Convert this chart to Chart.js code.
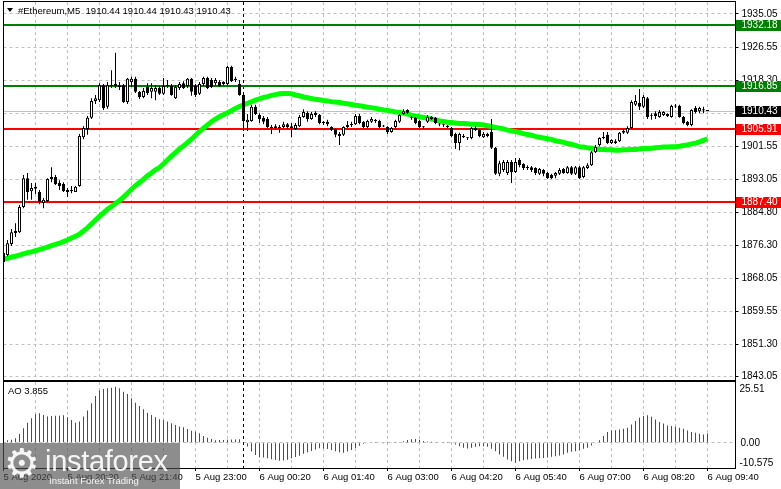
<!DOCTYPE html>
<html>
<head>
<meta charset="utf-8">
<title>#Ethereum,M5</title>
<script src="https://cdn.jsdelivr.net/npm/chart.js@4.4.1/dist/chart.umd.min.js"></script>
<style>
  html, body { margin: 0; padding: 0; background: #fff; }
  #stage { position: relative; width: 781px; height: 489px; overflow: hidden; font-family: 'Liberation Sans', Arial, sans-serif; }
  #mainChart { position: absolute; left: 0; top: 0; }
  #aoChart { position: absolute; left: 0; top: 381px; }
  .caption { position: absolute; font-size: 9.5px; line-height: 11px; color: #000; white-space: pre; }
  #tri { position: absolute; left: 7px; top: 8px; width: 0; height: 0;
         border-left: 3.5px solid transparent; border-right: 3.5px solid transparent; border-top: 4px solid #000; }
  #title { left: 18px; top: 5px; }
  #aoTitle { left: 8px; top: 385px; }
  #logo { position: absolute; left: 0; top: 443px; width: 180px; height: 46px; background: rgba(80, 80, 80, 0.65); overflow: hidden; color: rgba(255, 255, 255, 0.92); }
  #logo .gear { position: absolute; left: 4px; top: -3px; font: 40px/46px 'DejaVu Sans', sans-serif; }
  #logo .brand { position: absolute; left: 45px; top: 4px; font: 29px/29px 'Liberation Sans', Arial, sans-serif; letter-spacing: -0.3px; }
  #logo .tag { position: absolute; left: 49px; top: 32px; font: 9.5px/11px 'Liberation Sans', Arial, sans-serif; }
</style>
</head>
<body>
<div id="stage">
  <canvas id="mainChart" width="781" height="381"></canvas>
  <canvas id="aoChart" width="781" height="108"></canvas>
  <div id="tri"></div>
  <div id="title" class="caption">#Ethereum,M5  1910.44 1910.44 1910.43 1910.43</div>
  <div id="aoTitle" class="caption">AO 3.855</div>
  <div id="logo"><div class="gear">⚙</div><div class="brand">instaforex</div><div class="tag">Instant Forex Trading</div></div>
</div>
<script>
// ETH M5 candles, 5 Aug 19:00 .. 6 Aug 09:40
const opens = [
  1872.1,1873.9,1876.7,1880.0,1879.7,1886.1,1893.4,1890.1,1891.2,1889.9,
  1887.1,1887.6,1893.2,1893.7,1892.2,1891.9,1890.4,1890.1,1889.9,1891.4,
  1903.8,1905.9,1908.7,1913.0,1913.2,1917.0,1911.5,1917.0,1916.8,1917.0,
  1917.0,1912.7,1917.8,1918.6,1915.3,1914.0,1916.5,1915.3,1915.3,1916.3,
  1914.8,1916.8,1916.8,1913.7,1916.3,1917.5,1916.8,1918.6,1916.8,1914.8,
  1917.3,1918.8,1918.3,1917.5,1917.8,1917.3,1917.3,1921.6,1918.3,1917.3,
  1914.5,1907.6,1907.9,1911.5,1909.4,1908.7,1908.4,1906.1,1906.1,1906.4,
  1906.4,1907.1,1906.6,1905.9,1906.6,1908.9,1910.0,1908.4,1910.0,1909.4,
  1907.4,1907.7,1906.4,1905.9,1904.6,1904.4,1906.4,1906.9,1907.1,1909.2,
  1907.7,1906.4,1907.7,1908.2,1907.9,1906.6,1906.4,1905.1,1906.4,1907.7,
  1909.7,1910.7,1908.9,1908.7,1907.9,1906.4,1907.7,1908.4,1908.7,1907.1,
  1906.9,1906.4,1906.1,1904.6,1902.3,1903.8,1903.6,1903.6,1906.1,1905.6,
  1903.8,1904.1,1905.1,1901.1,1894.5,1895.5,1894.7,1897.5,1895.0,1898.0,
  1897.0,1896.2,1896.2,1896.0,1894.5,1895.5,1894.7,1894.2,1894.0,1894.5,
  1895.7,1894.7,1896.2,1894.5,1896.2,1893.7,1896.0,1896.7,1900.0,1901.8,
  1903.6,1904.4,1902.3,1902.3,1902.8,1904.9,1904.9,1906.1,1912.0,1912.5,
  1911.5,1913.7,1909.2,1909.9,1908.9,1909.4,1909.7,1908.9,1911.7,1911.7,
  1908.9,1907.7,1906.9,1911.2,1910.4,1910.9,1910.44
];
const highs = [
  1875.2,1877.7,1880.5,1882.0,1886.6,1894.2,1894.7,1892.2,1892.2,1890.4,
  1888.4,1893.4,1896.2,1894.2,1892.9,1892.4,1890.9,1891.4,1891.4,1904.6,
  1906.6,1909.2,1913.7,1914.5,1917.5,1917.3,1917.8,1920.8,1925.2,1917.8,
  1917.3,1918.8,1919.1,1919.1,1915.5,1916.3,1917.5,1917.5,1917.0,1916.8,
  1918.8,1918.3,1917.3,1917.0,1917.8,1918.0,1918.8,1918.8,1917.3,1917.8,
  1919.1,1919.1,1918.8,1918.8,1918.3,1918.0,1921.9,1921.9,1919.1,1918.3,
  1915.0,1909.7,1912.0,1912.0,1909.9,1909.2,1908.9,1906.9,1907.1,1906.9,
  1907.7,1907.4,1907.4,1907.4,1909.4,1910.9,1910.4,1910.2,1910.4,1909.7,
  1907.9,1908.2,1906.6,1906.1,1905.1,1906.6,1907.9,1907.7,1909.7,1909.7,
  1907.9,1908.2,1908.9,1908.4,1908.2,1906.9,1906.6,1906.4,1908.2,1909.7,
  1910.9,1910.9,1909.2,1908.9,1908.2,1906.6,1909.4,1909.2,1908.9,1907.4,
  1907.1,1906.9,1906.4,1904.9,1904.9,1904.6,1903.8,1906.4,1906.6,1905.9,
  1905.1,1904.9,1908.4,1901.3,1897.8,1898.0,1898.0,1898.0,1898.5,1898.5,
  1897.2,1896.7,1896.5,1896.2,1896.0,1895.7,1895.0,1894.5,1895.0,1896.0,
  1896.0,1896.5,1896.5,1896.5,1896.5,1896.5,1897.2,1900.3,1901.8,1903.8,
  1905.1,1905.1,1903.3,1903.3,1905.1,1905.9,1906.6,1913.2,1914.5,1916.0,
  1914.5,1914.0,1909.9,1910.4,1910.7,1910.4,1909.9,1912.0,1912.2,1912.0,
  1909.2,1907.9,1910.9,1911.7,1911.5,1911.5,1910.44
];
const lows = [
  1871.1,1873.6,1876.2,1878.5,1879.5,1885.8,1887.9,1887.9,1889.4,1886.8,
  1885.8,1887.4,1892.4,1891.7,1890.4,1889.9,1888.6,1889.6,1889.9,1891.2,
  1903.3,1904.4,1908.4,1912.2,1912.7,1910.7,1911.0,1916.3,1916.3,1915.8,
  1912.5,1912.2,1916.5,1915.0,1913.5,1913.7,1914.5,1913.7,1913.2,1914.5,
  1914.5,1916.3,1914.3,1913.5,1915.8,1916.0,1916.3,1914.3,1914.0,1914.5,
  1916.8,1916.0,1916.3,1917.0,1916.5,1917.0,1917.0,1917.8,1917.8,1914.3,
  1905.6,1905.4,1907.7,1909.4,1907.4,1907.1,1906.1,1904.6,1905.6,1904.9,
  1906.1,1905.9,1903.8,1905.6,1906.4,1908.7,1907.7,1908.2,1908.9,1907.1,
  1906.9,1906.6,1905.4,1903.8,1901.8,1904.1,1906.1,1906.4,1906.9,1907.1,
  1906.1,1906.1,1907.4,1907.4,1906.1,1906.4,1904.6,1904.9,1906.1,1907.4,
  1909.4,1909.7,1908.2,1907.1,1906.1,1905.9,1907.4,1908.2,1907.1,1906.6,
  1906.4,1906.1,1903.8,1900.8,1900.5,1903.6,1903.1,1903.3,1905.4,1903.8,
  1903.6,1903.8,1900.8,1894.2,1893.9,1895.0,1894.2,1892.2,1894.7,1896.2,
  1895.5,1895.5,1895.0,1894.2,1894.2,1893.9,1893.2,1893.2,1893.4,1894.2,
  1894.5,1894.5,1894.2,1894.2,1893.2,1893.4,1895.7,1896.5,1899.8,1901.5,
  1903.3,1902.1,1902.1,1902.1,1902.6,1904.6,1904.6,1905.9,1911.7,1910.7,
  1911.2,1908.4,1908.2,1908.4,1908.7,1909.2,1908.9,1908.7,1911.2,1908.7,
  1907.1,1906.6,1906.6,1909.9,1909.9,1909.9,1910.43
];
const closes = [
  1874.4,1876.9,1879.7,1879.5,1886.1,1893.4,1889.9,1890.9,1890.7,1887.4,
  1887.9,1893.2,1893.7,1891.9,1891.4,1890.1,1889.9,1890.4,1891.2,1904.1,
  1906.1,1908.7,1913.0,1913.7,1917.0,1911.2,1917.0,1916.8,1917.3,1916.5,
  1912.7,1918.6,1918.6,1915.3,1914.0,1915.5,1915.0,1916.3,1916.3,1914.8,
  1916.8,1917.0,1914.5,1916.5,1917.3,1916.3,1918.6,1915.3,1914.5,1917.3,
  1918.8,1916.3,1916.5,1918.3,1916.8,1917.8,1921.6,1918.0,1918.6,1914.5,
  1907.9,1908.2,1911.5,1909.7,1908.4,1907.7,1906.4,1906.4,1906.6,1906.1,
  1907.1,1906.4,1906.1,1906.9,1908.9,1910.2,1908.4,1909.7,1909.4,1907.4,
  1907.7,1907.1,1905.6,1904.4,1904.1,1906.4,1906.9,1907.1,1909.2,1907.4,
  1906.4,1907.9,1908.4,1907.9,1906.4,1906.5,1905.1,1906.1,1907.9,1909.4,
  1910.4,1910.0,1908.7,1907.4,1906.4,1906.3,1908.9,1908.9,1907.4,1907.0,
  1906.8,1906.6,1904.1,1902.3,1904.6,1904.1,1903.5,1906.1,1905.6,1904.1,
  1904.6,1904.6,1901.1,1894.5,1897.2,1897.5,1897.5,1895.0,1897.5,1896.7,
  1896.0,1896.0,1895.5,1894.7,1895.7,1894.5,1893.4,1893.4,1894.7,1895.5,
  1894.7,1896.2,1894.5,1896.2,1893.4,1896.2,1896.7,1900.0,1901.3,1903.6,
  1903.8,1902.3,1903.1,1902.8,1904.9,1905.4,1906.1,1912.7,1913.0,1911.5,
  1914.0,1908.9,1909.1,1909.2,1910.2,1910.2,1909.2,1911.7,1911.6,1908.9,
  1907.4,1906.9,1910.7,1910.2,1911.2,1910.6,1910.43
];
// green moving average
const maValues = [
  1872.9,1873.1,1873.4,1873.6,1873.9,1874.2,1874.5,1874.7,1875.0,1875.3,
  1875.6,1875.9,1876.3,1876.6,1876.9,1877.3,1877.7,1878.2,1878.7,1879.2,
  1880.0,1880.8,1881.8,1882.8,1883.7,1884.6,1885.5,1886.2,1887.0,1887.7,
  1888.6,1889.6,1890.6,1891.5,1892.3,1893.1,1894.0,1894.7,1895.5,1896.1,
  1897.0,1898.0,1899.0,1899.9,1900.8,1901.6,1902.4,1903.3,1904.3,1905.2,
  1906.1,1906.9,1907.7,1908.4,1909.0,1909.5,1910.0,1910.5,1911.1,1911.6,
  1912.0,1912.4,1912.8,1913.2,1913.5,1913.9,1914.1,1914.4,1914.6,1914.8,
  1914.9,1914.9,1914.8,1914.5,1914.3,1914.0,1913.8,1913.6,1913.4,1913.3,
  1913.1,1913.0,1912.8,1912.7,1912.6,1912.4,1912.3,1912.1,1911.9,1911.8,
  1911.6,1911.4,1911.3,1911.1,1910.9,1910.7,1910.6,1910.4,1910.2,1910.1,
  1909.9,1909.7,1909.4,1909.2,1909.0,1908.8,1908.6,1908.4,1908.2,1907.9,
  1907.8,1907.6,1907.5,1907.4,1907.3,1907.3,1907.2,1907.1,1907.1,1907.0,
  1906.9,1906.7,1906.5,1906.3,1906.1,1905.9,1905.6,1905.4,1905.2,1905.0,
  1904.7,1904.5,1904.3,1904.0,1903.8,1903.6,1903.4,1903.2,1902.9,1902.7,
  1902.5,1902.2,1902.0,1901.7,1901.4,1901.3,1901.1,1901.0,1900.8,1900.7,
  1900.7,1900.6,1900.6,1900.5,1900.5,1900.6,1900.6,1900.7,1900.7,1900.8,
  1900.9,1900.9,1901.0,1901.1,1901.2,1901.3,1901.3,1901.4,1901.4,1901.5,
  1901.7,1901.8,1902.1,1902.3,1902.6,1903.0,1903.4
];
// Awesome Oscillator
const aoValues = [
  1.0,1.1,1.3,1.9,3.7,6.1,8.4,10.3,12.0,12.4,
  11.7,11.0,11.2,11.3,11.4,11.6,10.7,9.6,8.4,8.9,
  11.0,13.5,16.6,19.6,21.9,22.6,22.9,23.1,23.5,22.9,
  21.4,20.5,18.7,16.8,15.4,14.1,12.6,11.7,10.7,9.9,
  9.6,8.9,8.2,7.5,6.8,6.5,5.8,5.1,4.7,4.0,
  2.9,2.1,1.6,1.1,1.15,1.2,1.3,1.35,1.4,1.45,
  0.3,-1.6,-3.7,-5.1,-6.1,-6.2,-6.5,-6.9,-7.2,-7.5,
  -7.4,-7.1,-6.5,-6.0,-5.4,-4.6,-4.0,-3.4,-2.8,-2.3,
  -2.4,-2.6,-3.0,-3.5,-4.0,-4.2,-3.7,-3.0,-2.2,-1.2,
  -0.5,-0.2,0.0,0.05,0.0,-0.05,0.05,0.1,0.15,0.3,
  0.7,1.2,1.5,1.6,1.3,0.8,0.5,0.4,0.3,0.2,
  0.1,0.05,-0.3,-0.7,-1.4,-2.1,-2.4,-2.1,-1.7,-1.4,
  -1.5,-1.7,-2.5,-3.5,-4.9,-5.9,-7.0,-7.7,-8.4,-7.7,
  -7.3,-7.0,-6.8,-6.6,-6.5,-6.4,-6.2,-5.9,-5.6,-5.3,
  -4.9,-4.2,-3.8,-3.5,-3.1,-2.5,-2.1,-1.1,-0.3,1.1,
  2.8,4.5,5.2,5.3,5.6,5.9,6.3,7.7,9.1,10.5,
  11.2,11.6,10.9,9.8,8.7,8.1,7.3,7.0,6.7,6.3,
  5.9,5.2,4.5,4.2,3.8,3.5,3.855
];

const resistanceLevels = [1932.18, 1916.85];
const supportLevels = [1905.91, 1887.40];
const lastPrice = 1910.43;
const priceTicks = [1935.05, 1926.55, 1918.30, 1909.80, 1901.55, 1893.05, 1884.80, 1876.30, 1868.05, 1859.55, 1851.30, 1843.05];
const priceRange = [1842.21, 1938.09];
const aoRange = [-10.575, 25.51];
const timeLabels = ['5 Aug 2020', '5 Aug 20:20', '5 Aug 21:40', '5 Aug 23:00', '6 Aug 00:20', '6 Aug 01:40',
                    '6 Aug 03:00', '6 Aug 04:20', '6 Aug 05:40', '6 Aug 07:00', '6 Aug 08:20', '6 Aug 09:40'];

// bar slots: the candles plus empty room on the right (chart shift)
const barTimes = [];
for (let i = 0; i < opens.length + 7; i++) {
  const mins = 19 * 60 + i * 5;
  const day = mins >= 1440 ? 6 : 5;
  const m = mins % 1440;
  barTimes.push(day + ' Aug ' + String(Math.floor(m / 60)).padStart(2, '0') + ':' + String(m % 60).padStart(2, '0'));
}
const dayStart = barTimes.indexOf('6 Aug 00:00');

const FONT = "'Liberation Sans', Arial, sans-serif";
Chart.defaults.font.family = FONT;
Chart.defaults.color = '#000';

const wickData = lows.map((l, i) => [l, highs[i]]);
const bodyData = opens.map((o, i) => [Math.min(o, closes[i]), Math.max(o, closes[i])]);
const bodyColors = opens.map((o, i) => closes[i] > o ? '#ffffff' : '#000000');
const aoColors = aoValues.map((v, i) => i > 0 && v > aoValues[i - 1] ? '#008000' : '#ff0000');

function drawSeparator(chart) {
  const { ctx, chartArea: a, scales: { x } } = chart;
  const sx = Math.floor(x.getPixelForValue(dayStart)) + 0.5;
  ctx.save();
  ctx.strokeStyle = '#000';
  ctx.lineWidth = 1;
  ctx.setLineDash([3, 3]);
  ctx.beginPath();
  ctx.moveTo(sx, a.top);
  ctx.lineTo(sx, a.bottom);
  ctx.stroke();
  ctx.restore();
}

function drawFrame(chart) {
  const { ctx, chartArea: a } = chart;
  const l = Math.floor(a.left), r = Math.floor(a.right), t = Math.floor(a.top), b = Math.floor(a.bottom);
  ctx.save();
  ctx.strokeStyle = '#000';
  ctx.lineWidth = 1;
  ctx.strokeRect(l + 0.5, t - 0.5, r - l, b - t + 1);
  ctx.restore();
}

const mainDecor = {
  id: 'mainDecor',
  beforeDatasetsDraw(chart) {
    const { ctx, chartArea: a, scales: { y } } = chart;
    drawSeparator(chart);
    ctx.save();
    // current price line
    const py = Math.floor(y.getPixelForValue(lastPrice)) + 0.5;
    ctx.strokeStyle = '#c0c0c0';
    ctx.lineWidth = 1;
    ctx.beginPath();
    ctx.moveTo(a.left, py);
    ctx.lineTo(a.right, py);
    ctx.stroke();
    // levels
    const lvl = (p, c) => {
      const ly = Math.round(y.getPixelForValue(p));
      ctx.strokeStyle = c;
      ctx.lineWidth = 2;
      ctx.beginPath();
      ctx.moveTo(a.left, ly);
      ctx.lineTo(a.right, ly);
      ctx.stroke();
    };
    resistanceLevels.forEach(p => lvl(p, '#008000'));
    supportLevels.forEach(p => lvl(p, '#ff0000'));
    ctx.restore();
  },
  afterDraw(chart) {
    const { ctx, chartArea: a, scales: { y } } = chart;
    drawFrame(chart);
    ctx.save();
    ctx.font = '10px ' + FONT;
    ctx.textBaseline = 'middle';
    const tagX = Math.floor(a.right) + 1;
    const tag = (p, bg) => {
      const ty = Math.round(y.getPixelForValue(p));
      ctx.fillStyle = bg;
      ctx.fillRect(tagX, ty - 5, chart.width - tagX, 11);
      ctx.fillStyle = '#fff';
      ctx.fillText(p.toFixed(2), a.right + 6, ty + 0.5);
    };
    resistanceLevels.forEach(p => tag(p, '#008000'));
    tag(lastPrice, '#000000');
    supportLevels.forEach(p => tag(p, '#ff0000'));
    ctx.restore();
  }
};

const aoDecor = {
  id: 'aoDecor',
  beforeDatasetsDraw(chart) {
    drawSeparator(chart);
  },
  afterDraw(chart) {
    const { ctx, chartArea: a, scales: { y } } = chart;
    drawFrame(chart);
    ctx.save();
    ctx.font = '10px ' + FONT;
    ctx.fillStyle = '#000';
    ctx.textBaseline = 'middle';
    ctx.fillText(String(aoRange[1]), a.right + 4, a.top + 7);
    ctx.fillText('0.00', a.right + 5, y.getPixelForValue(0));
    ctx.fillText(String(aoRange[0]), a.right + 4, a.bottom - 5);
    ctx.restore();
  }
};

const gridEvery8 = c => (c.index % 8 === 0 && c.index > 0) ? '#c0c0c0' : 'rgba(0,0,0,0)';

new Chart(document.getElementById('mainChart'), {
  type: 'bar',
  data: {
    labels: barTimes,
    datasets: [
      { type: 'bar', data: bodyData, backgroundColor: bodyColors, borderColor: '#000', borderWidth: 1,
        borderSkipped: false, barThickness: 3, grouped: false, minBarLength: 1, inflateAmount: 0, order: 0 },
      { type: 'bar', data: wickData, backgroundColor: '#000', borderWidth: 0,
        barThickness: 1, grouped: false, inflateAmount: 0, order: 1 },
      { type: 'line', data: maValues, borderColor: '#00ff00', borderWidth: 5, pointRadius: 0, tension: 0, order: 2 }
    ]
  },
  options: {
    responsive: false,
    animation: false,
    events: [],
    layout: { padding: { left: 3.5, top: 2, right: 0, bottom: 1 } },
    plugins: { legend: { display: false }, tooltip: { enabled: false } },
    scales: {
      x: {
        type: 'category', offset: false,
        grid: { offset: false, color: gridEvery8, drawTicks: false },
        border: { display: false, dash: [3, 3] },
        ticks: { display: false, autoSkip: false },
        afterFit: s => { s.height = 0; s.paddingLeft = 0; s.paddingRight = 0; }
      },
      y: {
        position: 'right', min: priceRange[0], max: priceRange[1],
        afterBuildTicks: s => { s.ticks = priceTicks.map(v => ({ value: v })); },
        grid: { color: '#c0c0c0', tickColor: '#000', tickLength: 3, tickBorderDash: [] },
        border: { display: false, dash: [3, 3] },
        ticks: { padding: 3, color: '#000', font: { size: 10 }, autoSkip: false, callback: v => Number(v).toFixed(2) },
        afterFit: s => { s.width = 45.5; s.paddingTop = 0; s.paddingBottom = 0; }
      }
    }
  },
  plugins: [mainDecor]
});

new Chart(document.getElementById('aoChart'), {
  type: 'bar',
  data: {
    labels: barTimes,
    datasets: [
      { data: aoValues, backgroundColor: aoColors, borderWidth: 0, barThickness: 1, inflateAmount: 0 }
    ]
  },
  options: {
    responsive: false,
    animation: false,
    events: [],
    layout: { padding: { left: 3.5, top: 1, right: 0, bottom: 0 } },
    plugins: { legend: { display: false }, tooltip: { enabled: false } },
    scales: {
      x: {
        type: 'category', offset: false,
        grid: { offset: false, color: gridEvery8, tickLength: 3, tickBorderDash: [],
                tickColor: c => c.index % 16 === 0 ? '#000' : 'rgba(0,0,0,0)' },
        border: { display: false, dash: [3, 3] },
        ticks: {
          autoSkip: false, maxRotation: 0, minRotation: 0, align: 'start', padding: 1,
          color: '#000', font: { size: 9.5 },
          callback: (v, i) => i % 16 === 0 ? (timeLabels[i / 16] || '') : ''
        },
        afterFit: s => { s.height = 21; s.paddingLeft = 0; s.paddingRight = 0; }
      },
      y: {
        position: 'right', min: aoRange[0], max: aoRange[1],
        afterBuildTicks: s => { s.ticks = [{ value: 0 }]; },
        grid: { color: '#c0c0c0', drawTicks: false },
        border: { display: false, dash: [3, 3] },
        ticks: { display: false },
        afterFit: s => { s.width = 45.5; s.paddingTop = 0; s.paddingBottom = 0; }
      }
    }
  },
  plugins: [aoDecor]
});
</script>
</body>
</html>
